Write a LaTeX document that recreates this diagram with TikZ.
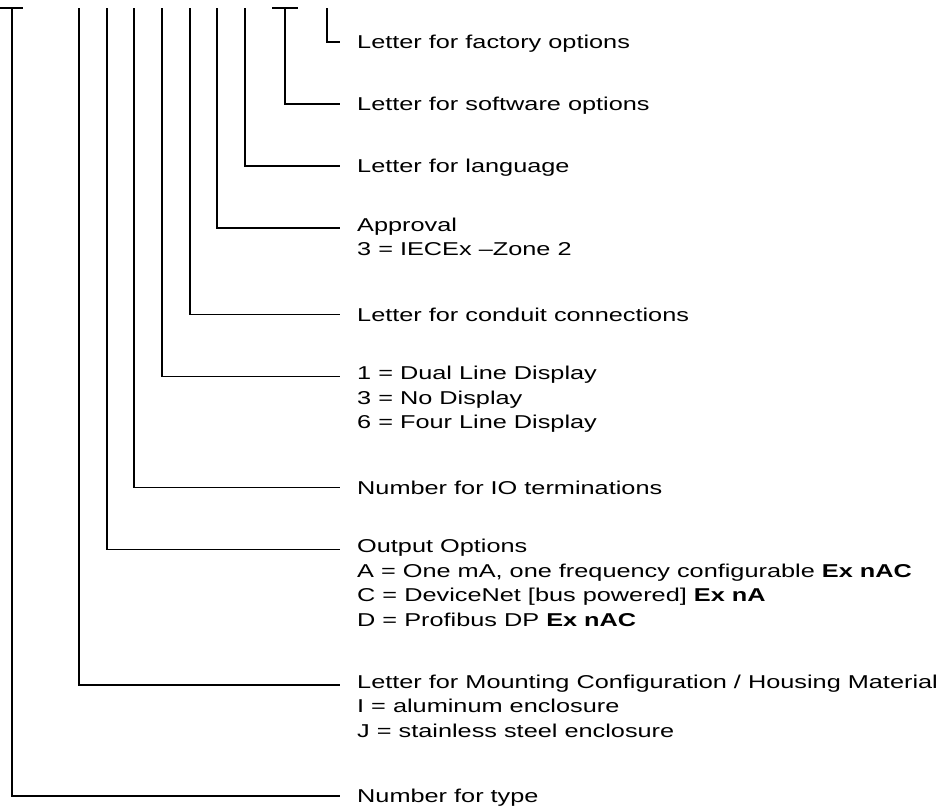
\documentclass[tikz,border=0pt]{standalone}
\usepackage{fontspec}
\setmainfont{Liberation Sans}[FakeStretch=1.36]
\usetikzlibrary{calc}

\begin{document}
\begin{tikzpicture}[
        x=1pt, y=-1pt,
        codeline/.style={line width=1.6pt},
        codetext/.style={anchor=north west, align=left, inner sep=0pt, font={\fontsize{18.6}{24.5}\selectfont}, execute at begin node=\strut},
        lead/.style={xshift=-17pt, yshift=-10.45pt}
    ]
        \useasboundingbox (0,0) rectangle (945,811);

        % Tops of the stems
        \coordinate (typeTop) at (12,8);
        \coordinate (mountTop) at (79,8);
        \coordinate (outputTop) at (107,8);
        \coordinate (ioTop) at (134,8);
        \coordinate (displayTop) at (162,8);
        \coordinate (conduitTop) at (190,8);
        \coordinate (approvalTop) at (217,8);
        \coordinate (languageTop) at (245,8);
        \coordinate (softwareTop) at (285,8);
        \coordinate (factoryTop) at (327,8);

        % Descriptions
        \node (factory) [codetext] at (357,31.55) {Letter for factory options};
        \node (software) [codetext] at (357,93.55) {Letter for software options};
        \node (language) [codetext] at (357,155.55) {Letter for language};
        \node (approval) [codetext] at (357,217.55) {Approval\\3 = IECEx --Zone 2};
        \node (conduit) [codetext] at (357,304.05) {Letter for conduit connections};
        \node (display) [codetext] at (357,366.05) {1 = Dual Line Display\\3 = No Display\\6 = Four Line Display};
        \node (io) [codetext] at (357,477.05) {Number for IO terminations};
        \node (output) [codetext] at (357,539.05) {Output Options\\A = One mA, one frequency configurable \textbf{Ex nAC}\\C = DeviceNet [bus powered] \textbf{Ex nA}\\D = Profibus DP \textbf{Ex nAC}};
        \node (mount) [codetext] at (357,674.55) {Letter for Mounting Configuration / Housing Material\\I = aluminum enclosure\\J = stainless steel enclosure};
        \node (type) [codetext] at (357,785.55) {Number for type};

        % T bars on the outer stems
        \draw [codeline] ([xshift=-12pt]typeTop) -- ([xshift=11pt]typeTop);
        \draw [codeline] ([xshift=-13pt]softwareTop) -- ([xshift=13pt]softwareTop);

        % Leads from the stems to the descriptions
        \draw [codeline] (factoryTop) |- ([lead]factory.north west);
        \draw [codeline] (softwareTop) |- ([lead]software.north west);
        \draw [codeline] (languageTop) |- ([lead]language.north west);
        \draw [codeline] (approvalTop) |- ([lead]approval.north west);
        \draw [codeline] (conduitTop) |- ([lead]conduit.north west);
        \draw [codeline] (displayTop) |- ([lead]display.north west);
        \draw [codeline] (ioTop) |- ([lead]io.north west);
        \draw [codeline] (outputTop) |- ([lead]output.north west);
        \draw [codeline] (mountTop) |- ([lead]mount.north west);
        \draw [codeline] (typeTop) |- ([lead]type.north west);
    \end{tikzpicture}
\end{document}
